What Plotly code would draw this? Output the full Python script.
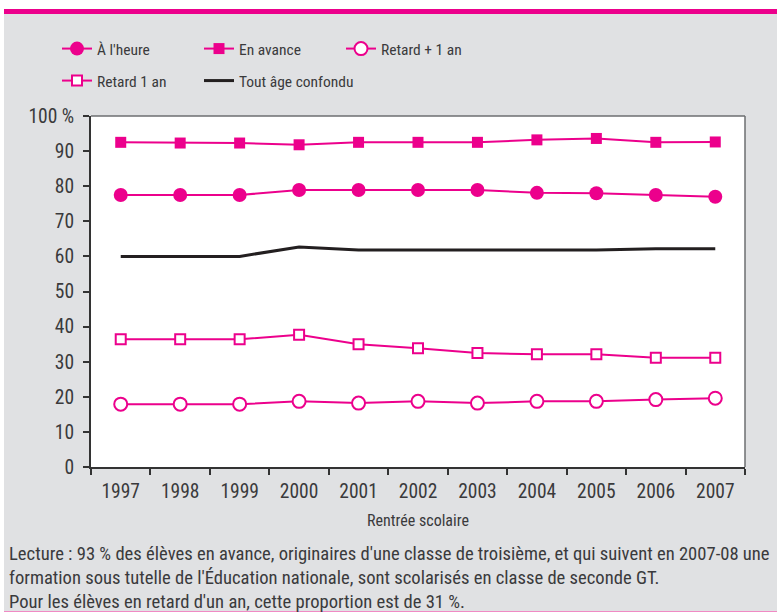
import plotly.graph_objects as go

years = ["1997", "1998", "1999", "2000", "2001", "2002", "2003", "2004", "2005", "2006", "2007"]
a_l_heure = [77.5, 77.5, 77.5, 78.9, 78.9, 78.9, 78.9, 78.1, 78.0, 77.5, 77.0]
en_avance = [92.5, 92.3, 92.3, 91.8, 92.5, 92.5, 92.5, 93.2, 93.6, 92.5, 92.6]
retard_plus_1 = [17.9, 17.9, 17.9, 18.7, 18.2, 18.7, 18.2, 18.7, 18.7, 19.2, 19.6]
retard_1 = [36.4, 36.4, 36.4, 37.7, 35.0, 33.8, 32.5, 32.1, 32.1, 31.1, 31.1]
tout_age = [60.0, 60.0, 60.0, 62.7, 61.8, 61.8, 61.8, 61.8, 61.8, 62.2, 62.2]
y_ticks = [0, 10, 20, 30, 40, 50, 60, 70, 80, 90, 100]
y_tick_text = ["0", "10", "20", "30", "40", "50", "60", "70", "80", "90", "100 %"]

PINK = "#EC008C"
GRAY = "#E0E1E3"
TXT = "#3a3a3c"
FONT = "Liberation Sans Narrow, Roboto Condensed, DejaVu Sans Condensed, sans-serif"

W, H = 777, 613
L, R, T, B = 91, 32, 116, 146
PW, PH = W - L - R, H - T - B


def px(x):
    return (x - L) / PW


def py(y):
    return (H - B - y) / PH


fig = go.Figure()
fig.add_trace(go.Scatter(x=years, y=a_l_heure, name="À l'heure", mode="lines+markers",
                         line=dict(color=PINK, width=2), legend="legend",
                         marker=dict(symbol="circle", size=14, color=PINK)))
fig.add_trace(go.Scatter(x=years, y=en_avance, name="En avance", mode="lines+markers",
                         line=dict(color=PINK, width=2), legend="legend",
                         marker=dict(symbol="square", size=11, color=PINK)))
fig.add_trace(go.Scatter(x=years, y=retard_plus_1, name="Retard + 1 an", mode="lines+markers",
                         line=dict(color=PINK, width=2), legend="legend",
                         marker=dict(symbol="circle", size=13, color="white",
                                     line=dict(color=PINK, width=2))))
fig.add_trace(go.Scatter(x=years, y=retard_1, name="Retard 1 an", mode="lines+markers",
                         line=dict(color=PINK, width=2), legend="legend2", legendwidth=97,
                         marker=dict(symbol="square", size=10, color="white",
                                     line=dict(color=PINK, width=2))))
fig.add_trace(go.Scatter(x=years, y=tout_age, name="Tout âge confondu", mode="lines",
                         line=dict(color="#231F20", width=3), legend="legend2", legendwidth=160))

legend_common = dict(orientation="h", xref="container", yref="container",
                     xanchor="left", yanchor="middle",
                     bgcolor="rgba(0,0,0,0)", font=dict(family=FONT, size=15.5, color=TXT),
                     traceorder="normal")

fig.update_layout(
    width=W, height=H,
    margin=dict(l=L, r=R, t=T, b=B, autoexpand=False),
    paper_bgcolor=GRAY,
    plot_bgcolor="white",
    font=dict(family=FONT, size=17, color=TXT),
    showlegend=True,
    legend=dict(x=57 / W, y=1 - 49 / H, entrywidth=97, entrywidthmode="pixels", **legend_common),
    legend2=dict(x=57 / W, y=1 - 81 / H, **legend_common),
    xaxis=dict(type="category", range=[-0.5, 10.5], tickson="boundaries",
               ticks="outside", ticklen=6, tickcolor="#333", tickwidth=1.5,
               ticklabelstandoff=6,
               showline=True, linecolor="#333", linewidth=2,
               showgrid=False, zeroline=False,
               tickfont=dict(size=19.5, color=TXT),
               title=dict(text="Rentrée scolaire", font=dict(size=16, color=TXT), standoff=12)),
    yaxis=dict(range=[0, 100], tickvals=y_ticks, ticktext=y_tick_text,
               ticks="outside", ticklen=6, tickcolor="#333", tickwidth=1.5,
               ticklabelstandoff=5,
               showline=True, linecolor="#333", linewidth=2,
               showgrid=False, zeroline=False,
               tickfont=dict(size=19.5, color=TXT)),
    shapes=[
        # white margins outside the grey panel
        dict(type="rect", xref="paper", yref="paper", x0=px(0), x1=px(W), y0=py(9), y1=py(0),
             fillcolor="white", line=dict(width=0)),
        dict(type="rect", xref="paper", yref="paper", x0=px(0), x1=px(4), y0=py(H), y1=py(0),
             fillcolor="white", line=dict(width=0)),
        dict(type="rect", xref="paper", yref="paper", x0=px(0), x1=px(W), y0=py(H), y1=py(612),
             fillcolor="white", line=dict(width=0)),
        # pink top band
        dict(type="rect", xref="paper", yref="paper", x0=px(4), x1=px(W), y0=py(14), y1=py(9),
             fillcolor=PINK, line=dict(width=0)),
        # thin pink bottom rule
        dict(type="line", xref="paper", yref="paper", x0=px(4), x1=px(W), y0=py(611.5), y1=py(611.5),
             line=dict(color="#F08AC4", width=1.2)),
        # grey top / right frame of the plot area
        dict(type="line", xref="paper", yref="paper", x0=0, x1=1, y0=1, y1=1,
             line=dict(color="#6d6e70", width=1.5)),
        dict(type="line", xref="paper", yref="paper", x0=1, x1=1, y0=0, y1=1,
             line=dict(color="#6d6e70", width=1.5)),
    ],
    annotations=[
        dict(text="Lecture : 93 % des élèves en avance, originaires d'une classe de troisième, et qui suivent en 2007-08 une<br>"
                  "formation sous tutelle de l'Éducation nationale, sont scolarisés en classe de seconde GT.<br>"
                  "Pour les élèves en retard d'un an, cette proportion est de 31 %.",
             xref="paper", yref="paper", x=px(7), y=py(540.5), xanchor="left", yanchor="top",
             align="left", showarrow=False, font=dict(size=18.6, color=TXT)),
    ],
)

fig.write_html("out.html", config={"displayModeBar": False},
               post_script="document.body.style.margin='0';")
